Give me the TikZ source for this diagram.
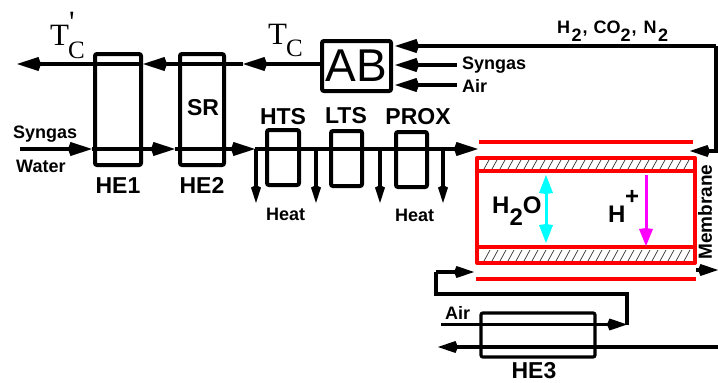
\documentclass[tikz,border=0pt]{standalone}
\usepackage{fontspec}
\setmainfont{Liberation Sans}
\newfontfamily\serifface{Liberation Serif}
\usetikzlibrary{arrows.meta, positioning}
\definecolor{memred}{HTML}{FF0000}
\definecolor{watercyan}{HTML}{00FFFF}
\definecolor{protonpink}{HTML}{FF00FF}
\tikzset{
  unitbox/.style={
    rectangle, rounded corners=2pt,
    draw=black, line width=4pt, inner sep=0pt
  },
  thinbox/.style={unitbox, line width=3.2pt},
  tag/.style={font=\bfseries\fontsize{18}{18}\selectfont, inner sep=0pt, anchor=base west},
  unitname/.style={font=\bfseries\fontsize{23}{23}\selectfont, inner sep=0pt, anchor=base},
  tempname/.style={font=\serifface\fontsize{31}{31}\selectfont, inner sep=0pt, anchor=base west},
  tempsub/.style={font=\serifface\fontsize{25}{25}\selectfont, inner sep=0pt, anchor=base west},
  species/.style={font=\bfseries\fontsize{24}{24}\selectfont, inner sep=0pt, anchor=base west},
  flow/.style={line width=3.4pt, draw=black},
  arrow/.style={flow, -{Kite[length=24pt,width=14pt,inset=2.5pt]}},
  heatarrow/.style={line width=3.2pt, draw=black, -{Kite[length=18pt,width=10pt,inset=2.5pt]}},
  smallarrow/.style={flow, -{Kite[length=20pt,width=12pt,inset=2.5pt]}},
  memline/.style={line width=4pt, draw=memred},
  hatchline/.style={line width=0.7pt, draw=black!80},
  waterarrow/.style={line width=3pt, draw=watercyan,
    {Kite[length=19pt,width=14pt,inset=1pt]}-{Kite[length=19pt,width=14pt,inset=1pt]}},
  protonarrow/.style={line width=3pt, draw=protonpink, -{Kite[length=18pt,width=14pt,inset=1pt]}},
}
\begin{document}
\begin{tikzpicture}[x=1pt, y=-1pt]
  \useasboundingbox (0,0) rectangle (718,383);

  \node[unitbox, minimum width=46pt, minimum height=111pt] (he1) at (118,109.5) {};
  \node[unitbox, minimum width=44pt, minimum height=111pt] (he2) at (202,109.5) {};
  \node[unitbox, minimum width=32pt, minimum height=55pt] (hts) at (283,157.5) {};
  \node[unitbox, minimum width=31pt, minimum height=55pt] (lts) at (346.5,158.5) {};
  \node[unitbox, minimum width=31pt, minimum height=55pt] (prox) at (411.5,159.5) {};
  \node[unitbox, minimum width=69pt, minimum height=50pt,
    font=\fontsize{46}{46}\selectfont] (ab) at (356.5,66) {AB};
  \node[thinbox, minimum width=114pt, minimum height=44pt] (he3) at (538,335) {};

  \node[unitname] (he1name) at (118,193) {HE1};
  \node[unitname] (he2name) at (202,193) {HE2};
  \node[unitname] (srname) at (203,115) {SR};
  \node[unitname] (htsname) at (283,124) {HTS};
  \node[unitname] (ltsname) at (346,123) {LTS};
  \node[unitname] (proxname) at (418,124) {PROX};
  \node[unitname] (he3name) at (534,378.5) {HE3};

  \node[tag] (syngasin) at (13,138) {Syngas};
  \node[tag] (waterin) at (16,172) {Water};
  \node[tag] (heatone) at (266,220) {Heat};
  \node[tag] (heattwo) at (395,221) {Heat};
  \node[tag] (syngasab) at (462,69) {Syngas};
  \node[tag] (airab) at (462,92.5) {Air};
  \node[tag] (airhe) at (445,319) {Air};
  \node[tag] (exhaust) at (557,33)
    {H\hspace{1.5pt}\raisebox{-8pt}{2}\hspace{1pt}, \hspace{1pt}CO\raisebox{-8pt}{2}\hspace{1pt}, \hspace{2pt}N\hspace{1.5pt}\raisebox{-8pt}{2}};
  \node[tag, font=\bfseries\fontsize{19}{19}\selectfont, rotate=90, anchor=center] (membrane) at (705,212) {Membrane};

  \node[tempname] (tcout) at (50,45) {T};
  \node[tempsub] (tcoutsub) at (68,58) {C};
  \node[tempname] (tcoutprime) at (69,32) {'};
  \node[tempname] (tcin) at (268,44) {T};
  \node[tempsub] (tcinsub) at (286,56) {C};

  \node[species] (water) at (492,213) {H\raisebox{-12pt}{2}O};
  \node[species] (proton) at (608,222) {H};
  \node[species] (protonplus) at (625,204) {+};

  \coordinate (outtip) at (17,64);
  \coordinate (he1tip) at (143,64);
  \coordinate (he2tip) at (243,64);
  \draw[arrow] (he2tip -| ab.west) -- (he2tip);
  \draw[arrow] (he2tip) -- (he1tip);
  \draw[arrow] (he1tip) -- (outtip);

  \coordinate (feed) at (20,149);
  \coordinate (feedtip) at (92,149);
  \coordinate (hetip) at (175,149);
  \coordinate (srtip) at (255,149);
  \coordinate (stacktip) at (478,149);
  \draw[arrow] (feed) -- (feedtip);
  \draw[arrow] (feedtip) -- (hetip);
  \draw[arrow] (hetip) -- (srtip);
  \draw[arrow] (srtip) -- (stacktip);

  \foreach \hx/\hname in {256/a,316/b,380/c,443/d} {
    \coordinate (tap\hname) at (\hx,149);
    \coordinate (heat\hname) at (\hx,203);
    \draw[heatarrow] (tap\hname) -- (heat\hname);
  }

  \coordinate (abtip) at (395,46);
  \coordinate (corner) at (716,46);
  \coordinate (cornerlow) at (716,151);
  \coordinate (anodetip) at (690,151);
  \coordinate (syngasfrom) at (457,65);
  \coordinate (syngastip) at (395,65);
  \coordinate (airfrom) at (457,85);
  \coordinate (airtip) at (395,85);
  \draw[arrow] (corner) -- (abtip);
  \draw[smallarrow] (corner) -- (cornerlow) -- (anodetip);
  \draw[arrow] (syngasfrom) -- (syngastip);
  \draw[arrow] (airfrom) -- (airtip);

  \draw[memline, line join=round] (477,158) rectangle (695,263);
  \draw[memline] (477,171) -- (695,171);
  \draw[memline] (477,247) -- (695,247);
  \draw[memline, line width=3.4pt] (479,142) -- (693,142);
  \draw[memline, line width=3.4pt] (476,279) -- (696,279);
  \foreach \hx in {484,492,...,686} {
    \draw[hatchline] (\hx,169) -- (\hx+5,160);
    \draw[hatchline] (\hx,261) -- (\hx+6,250);
  }

  \coordinate (waterup) at (546,175);
  \coordinate (waterdown) at (546,243);
  \coordinate (protonup) at (646,175);
  \coordinate (protondown) at (646,246);
  \draw[waterarrow] (waterup) -- (waterdown);
  \draw[protonarrow] (protonup) -- (protondown);

  \coordinate (airstart) at (441,324.5);
  \coordinate (airend) at (627,324.5);
  \coordinate (loopright) at (627,294);
  \coordinate (loopleft) at (436,294);
  \coordinate (loopup) at (436,272);
  \coordinate (cathodetip) at (474,272);
  \coordinate (cathodeout) at (696,270);
  \coordinate (cathodeedge) at (718,270);
  \coordinate (coolin) at (718,347);
  \coordinate (coolout) at (438,347);
  \draw[smallarrow] (airstart) -- (airend);
  \draw[flow] (airend) -- (loopright) -- (loopleft) -- (loopup);
  \draw[smallarrow] (loopup) -- (cathodetip);
  \draw[smallarrow] (cathodeout) -- (cathodeedge);
  \draw[smallarrow] (coolin) -- (coolout);
\end{tikzpicture}
\end{document}
